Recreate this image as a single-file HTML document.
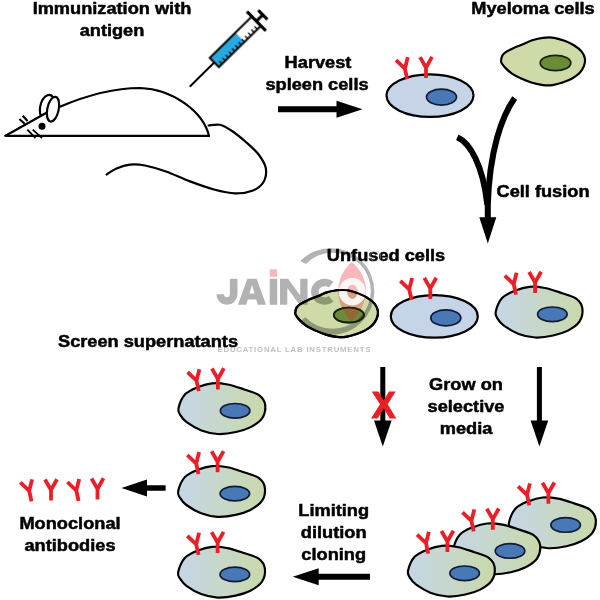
<!DOCTYPE html>
<html><head><meta charset="utf-8"><title>Monoclonal antibody production</title>
<style>
html,body{margin:0;padding:0;background:#fff;}
body{width:600px;height:600px;overflow:hidden;}
svg{display:block;font-family:"Liberation Sans",sans-serif;font-weight:bold;}
</style></head>
<body>
<svg width="600" height="600" viewBox="0 0 600 600">
<defs>
<linearGradient id="hg" x1="0" y1="0" x2="1" y2="0">
<stop offset="0" stop-color="#c5d6e8"/><stop offset="1" stop-color="#c9d9a9"/>
</linearGradient>
</defs>
<rect width="600" height="600" fill="#fff"/>
<g opacity="0.999">
<text transform="translate(112 13.5) scale(1.012 0.92)" text-anchor="middle" font-size="18" stroke="#000" stroke-width="0.55" stroke-linejoin="round">Immunization with</text>
<text transform="translate(112 35.5) scale(1.012 0.92)" text-anchor="middle" font-size="18" stroke="#000" stroke-width="0.55" stroke-linejoin="round">antigen</text>
<text transform="translate(318 68) scale(1.012 0.92)" text-anchor="middle" font-size="18" stroke="#000" stroke-width="0.55" stroke-linejoin="round">Harvest</text>
<text transform="translate(317 90) scale(1.012 0.92)" text-anchor="middle" font-size="18" stroke="#000" stroke-width="0.55" stroke-linejoin="round">spleen cells</text>
<text transform="translate(533 14) scale(1.012 0.92)" text-anchor="middle" font-size="18" stroke="#000" stroke-width="0.55" stroke-linejoin="round">Myeloma cells</text>
<text transform="translate(543 197) scale(1.012 0.92)" text-anchor="middle" font-size="18" stroke="#000" stroke-width="0.55" stroke-linejoin="round">Cell fusion</text>
<text transform="translate(386 261) scale(1.012 0.92)" text-anchor="middle" font-size="18" stroke="#000" stroke-width="0.55" stroke-linejoin="round">Unfused cells</text>
<text transform="translate(148 347) scale(1.012 0.92)" text-anchor="middle" font-size="18" stroke="#000" stroke-width="0.55" stroke-linejoin="round">Screen supernatants</text>
<text transform="translate(466 390) scale(1.012 0.92)" text-anchor="middle" font-size="18" stroke="#000" stroke-width="0.55" stroke-linejoin="round">Grow on</text>
<text transform="translate(466 412) scale(1.012 0.92)" text-anchor="middle" font-size="18" stroke="#000" stroke-width="0.55" stroke-linejoin="round">selective</text>
<text transform="translate(466 434) scale(1.012 0.92)" text-anchor="middle" font-size="18" stroke="#000" stroke-width="0.55" stroke-linejoin="round">media</text>
<text transform="translate(333.7 516) scale(1.012 0.92)" text-anchor="middle" font-size="18" stroke="#000" stroke-width="0.55" stroke-linejoin="round">Limiting</text>
<text transform="translate(333.7 538) scale(1.012 0.92)" text-anchor="middle" font-size="18" stroke="#000" stroke-width="0.55" stroke-linejoin="round">dilution</text>
<text transform="translate(333.7 560) scale(1.012 0.92)" text-anchor="middle" font-size="18" stroke="#000" stroke-width="0.55" stroke-linejoin="round">cloning</text>
<text transform="translate(70 529) scale(1.012 0.92)" text-anchor="middle" font-size="18" stroke="#000" stroke-width="0.55" stroke-linejoin="round">Monoclonal</text>
<text transform="translate(70 551) scale(1.012 0.92)" text-anchor="middle" font-size="18" stroke="#000" stroke-width="0.55" stroke-linejoin="round">antibodies</text>
</g>
<g fill="none" stroke="#000" stroke-width="2.2" stroke-linecap="round" stroke-linejoin="round">
<path d="M5.5 135.8H209"/>
<path d="M5.5 135.8L46.5 112.8"/>
<path d="M59.3 107C85 96 115 88 140 88C173 89 203.5 112 209 136"/>
<path d="M208.6 125.5C210.5 125.4 216.1 123.9 220.0 124.8C223.9 125.7 227.5 128.0 232.0 131.0C236.5 134.0 242.5 139.0 247.0 143.0C251.5 147.0 255.8 150.8 259.0 155.0C262.1 159.2 265.1 164.0 265.9 168.5C266.6 173.0 265.6 178.3 263.5 182.0C261.4 185.7 257.8 188.5 253.0 190.4C248.2 192.3 241.5 193.6 235.0 193.4C228.5 193.2 221.5 191.5 214.0 189.5C206.5 187.5 198.0 184.4 190.0 181.4C182.0 178.4 173.5 174.2 166.0 171.5C158.5 168.8 151.0 166.7 145.0 165.5C139.0 164.3 134.8 164.1 130.0 164.6C125.2 165.1 120.4 166.8 116.5 168.5C112.6 170.2 108.2 173.5 106.6 174.5"/>
<path d="M40.8 116C38.3 108 41.5 97.5 47.5 95.2C50.5 94.2 52.5 96 53.5 98.5"/>
<ellipse cx="53" cy="109.2" rx="5.7" ry="12.6" transform="rotate(12 53 109.2)" fill="#fff"/>
<path d="M19.3 119L24.7 123.7M22.7 115.7L27.5 121" stroke-width="2.1" stroke-linecap="butt"/>
<path d="M27.3 129.7L35.5 138M32.7 129.7L42 138" stroke-width="1.8" stroke-linecap="butt"/>
</g>
<circle cx="42" cy="126.3" r="3.5" fill="#000"/>
<g transform="translate(189.7 86.7) rotate(-44.5)">
<path d="M0 0H35" stroke="#000" stroke-width="1.8" fill="none"/>
<rect x="34.5" y="-6.5" width="59" height="13" fill="#fff"/>
<rect x="34.5" y="-6.5" width="36" height="13" fill="#29a8df"/>
<rect x="34.5" y="-6.5" width="59" height="13" fill="none" stroke="#000" stroke-width="2"/>
<path d="M39.0 6.5v-4M43.5 6.5v-4M48.0 6.5v-4M52.5 6.5v-4M57.0 6.5v-4M61.5 6.5v-4M66.0 6.5v-4M70.5 6.5v-4M75.0 6.5v-4M79.5 6.5v-4M84.0 6.5v-4M88.5 6.5v-4" stroke="#000" stroke-width="1.3" fill="none"/>
<path d="M93.5 -13.5V13.5" stroke="#000" stroke-width="3.2"/>
<path d="M93.5 0H102" stroke="#000" stroke-width="3"/>
<path d="M102.5 -6.5V6.5" stroke="#000" stroke-width="3.2"/>
</g>
<path d="M278 109.3H338.5" stroke="#000" stroke-width="6" fill="none"/><path d="M336.5 100.8L336.5 117.8L362.5 109.3Z" fill="#000"/>
<path d="M370 576.7H316.7" stroke="#000" stroke-width="6" fill="none"/><path d="M318.7 568.2L318.7 585.2L292.7 576.7Z" fill="#000"/>
<path d="M165.6 488H145.0" stroke="#000" stroke-width="5.5" fill="none"/><path d="M147.0 479.5L147.0 496.5L121.5 488Z" fill="#000"/>
<path d="M382.8 367V422.5" stroke="#000" stroke-width="5" fill="none"/><path d="M374.0 420.5L391.6 420.5L382.8 446.5Z" fill="#000"/>
<text x="383.8" y="417.6" text-anchor="middle" font-size="36.5" fill="#ea1f27" stroke="#ea1f27" stroke-width="0.9" opacity="0.999">X</text>
<path d="M539.4 367V422.5" stroke="#000" stroke-width="5" fill="none"/><path d="M530.6 420.5L548.1999999999999 420.5L539.4 446.5Z" fill="#000"/>
<path d="M514.7 98C502 116 489.5 150 487.8 205V220" stroke="#000" stroke-width="6" fill="none" stroke-linecap="butt"/>
<path d="M457.3 137.3C470 143 483 165 487.3 205" stroke="#000" stroke-width="6" fill="none" stroke-linecap="butt"/>
<path d="M479.3 217.2L496.3 217.2L487.8 243.5Z" fill="#000"/>
<ellipse cx="430" cy="95.6" rx="43.5" ry="21.3" fill="#c6d4e8" stroke="#000" stroke-width="2.2"/><ellipse cx="441.5" cy="97.1" rx="15" ry="8" fill="#4878b6" stroke="#0f1a33" stroke-width="1.7"/><path d="M407.2 79.1L404.9 68.6M396.0 60.1L404.9 68.6L407.8 57.1" stroke="#ea1f27" stroke-width="3.8" fill="none" stroke-linecap="butt" stroke-linejoin="miter"/><path d="M426.0 78.1L426.0 67.6M420.0 57.1L426.0 67.6L432.0 56.9" stroke="#ea1f27" stroke-width="3.8" fill="none" stroke-linecap="butt" stroke-linejoin="miter"/>
<g transform="translate(500.0 37.0) scale(1)"><path d="M1.0 23.8C1.1 22.4 1.6 19.8 2.5 18.2C3.4 16.7 4.6 15.8 6.5 14.6C8.4 13.4 11.1 12.1 13.8 10.9C16.6 9.7 19.9 8.5 23.0 7.2C26.1 6.0 28.8 4.3 32.2 3.2C35.6 2.1 39.5 1.2 43.2 0.8C46.9 0.4 50.5 0.3 54.2 0.8C57.9 1.4 61.9 2.8 65.2 4.1C68.5 5.4 71.5 6.8 74.3 8.5C77.0 10.2 79.9 12.4 81.7 14.6C83.5 16.8 84.6 19.5 85.0 21.9C85.4 24.3 84.8 26.9 83.9 29.2C83.0 31.6 81.7 33.7 79.8 35.7C77.9 37.7 75.2 39.6 72.5 41.2C69.8 42.8 66.7 44.1 63.3 45.2C59.9 46.4 55.6 47.6 52.3 48.1C48.9 48.6 46.6 48.5 43.2 48.1C39.9 47.7 35.9 46.9 32.2 45.8C28.5 44.6 24.6 43.0 21.2 41.5C17.8 40.0 14.6 38.3 12.0 36.6C9.4 34.9 7.3 32.8 5.6 31.1C3.9 29.4 2.7 27.7 1.9 26.5C1.1 25.3 0.9 25.1 1.0 23.8Z" fill="#cedba9" stroke="#000" stroke-width="2.2"/><ellipse cx="55.5" cy="26" rx="15.3" ry="7.7" fill="#6a8b37" stroke="#16210b" stroke-width="1.7"/></g>
<g transform="translate(294.2 289.5) scale(0.985)"><path d="M1.0 23.8C1.1 22.4 1.6 19.8 2.5 18.2C3.4 16.7 4.6 15.8 6.5 14.6C8.4 13.4 11.1 12.1 13.8 10.9C16.6 9.7 19.9 8.5 23.0 7.2C26.1 6.0 28.8 4.3 32.2 3.2C35.6 2.1 39.5 1.2 43.2 0.8C46.9 0.4 50.5 0.3 54.2 0.8C57.9 1.4 61.9 2.8 65.2 4.1C68.5 5.4 71.5 6.8 74.3 8.5C77.0 10.2 79.9 12.4 81.7 14.6C83.5 16.8 84.6 19.5 85.0 21.9C85.4 24.3 84.8 26.9 83.9 29.2C83.0 31.6 81.7 33.7 79.8 35.7C77.9 37.7 75.2 39.6 72.5 41.2C69.8 42.8 66.7 44.1 63.3 45.2C59.9 46.4 55.6 47.6 52.3 48.1C48.9 48.6 46.6 48.5 43.2 48.1C39.9 47.7 35.9 46.9 32.2 45.8C28.5 44.6 24.6 43.0 21.2 41.5C17.8 40.0 14.6 38.3 12.0 36.6C9.4 34.9 7.3 32.8 5.6 31.1C3.9 29.4 2.7 27.7 1.9 26.5C1.1 25.3 0.9 25.1 1.0 23.8Z" fill="#cedba9" stroke="#000" stroke-width="2.2"/><ellipse cx="55.5" cy="26" rx="15.3" ry="7.7" fill="#6a8b37" stroke="#16210b" stroke-width="1.7"/></g>
<ellipse cx="434.3" cy="316.4" rx="43.5" ry="21.3" fill="#c6d4e8" stroke="#000" stroke-width="2.2"/><ellipse cx="445.8" cy="317.9" rx="15" ry="8" fill="#4878b6" stroke="#0f1a33" stroke-width="1.7"/><path d="M411.5 299.9L409.2 289.4M400.3 280.9L409.2 289.4L412.1 277.9" stroke="#ea1f27" stroke-width="3.8" fill="none" stroke-linecap="butt" stroke-linejoin="miter"/><path d="M430.3 298.9L430.3 288.4M424.3 277.9L430.3 288.4L436.3 277.7" stroke="#ea1f27" stroke-width="3.8" fill="none" stroke-linecap="butt" stroke-linejoin="miter"/>
<g transform="translate(495.7 286.5) scale(0.985)"><path d="M0.0 25.7C0.8 22.2 3.4 15.1 6.7 11.5C10.0 7.9 15.4 5.9 20.0 4.0C24.6 2.1 29.2 0.7 34.2 0.3C39.2 -0.1 44.6 0.5 50.0 1.5C55.4 2.5 61.4 4.7 66.7 6.5C72.0 8.3 78.2 9.7 81.7 12.3C85.2 14.9 87.5 18.4 88.0 22.3C88.5 26.2 87.5 32.0 85.0 35.7C82.5 39.5 77.8 42.4 73.3 44.8C68.8 47.1 63.8 48.6 58.3 49.8C52.8 51.0 45.8 52.1 40.0 51.8C34.2 51.5 28.6 50.2 23.3 48.2C18.0 46.2 11.9 42.4 8.3 39.8C4.7 37.1 3.1 34.6 1.7 32.3C0.3 29.9 -0.8 29.2 0.0 25.7Z" fill="url(#hg)" stroke="#000" stroke-width="2.2"/><ellipse cx="57.5" cy="28.2" rx="15" ry="7.4" fill="#4878b6" stroke="#0f1a33" stroke-width="1.7"/></g><path d="M516.0 294.7L513.7 284.2M504.8 275.7L513.7 284.2L516.6 272.7" stroke="#ea1f27" stroke-width="3.8" fill="none" stroke-linecap="butt" stroke-linejoin="miter"/><path d="M535.1 293.0L535.1 282.5M529.1 272.0L535.1 282.5L541.1 271.8" stroke="#ea1f27" stroke-width="3.8" fill="none" stroke-linecap="butt" stroke-linejoin="miter"/>
<g transform="translate(178.5 383.0) scale(0.985)"><path d="M0.0 25.7C0.8 22.2 3.4 15.1 6.7 11.5C10.0 7.9 15.4 5.9 20.0 4.0C24.6 2.1 29.2 0.7 34.2 0.3C39.2 -0.1 44.6 0.5 50.0 1.5C55.4 2.5 61.4 4.7 66.7 6.5C72.0 8.3 78.2 9.7 81.7 12.3C85.2 14.9 87.5 18.4 88.0 22.3C88.5 26.2 87.5 32.0 85.0 35.7C82.5 39.5 77.8 42.4 73.3 44.8C68.8 47.1 63.8 48.6 58.3 49.8C52.8 51.0 45.8 52.1 40.0 51.8C34.2 51.5 28.6 50.2 23.3 48.2C18.0 46.2 11.9 42.4 8.3 39.8C4.7 37.1 3.1 34.6 1.7 32.3C0.3 29.9 -0.8 29.2 0.0 25.7Z" fill="url(#hg)" stroke="#000" stroke-width="2.2"/><ellipse cx="57.5" cy="28.2" rx="15" ry="7.4" fill="#4878b6" stroke="#0f1a33" stroke-width="1.7"/></g><path d="M198.8 391.2L196.5 380.7M187.6 372.2L196.5 380.7L199.4 369.2" stroke="#ea1f27" stroke-width="3.8" fill="none" stroke-linecap="butt" stroke-linejoin="miter"/><path d="M217.9 389.5L217.9 379.0M211.9 368.5L217.9 379.0L223.9 368.3" stroke="#ea1f27" stroke-width="3.8" fill="none" stroke-linecap="butt" stroke-linejoin="miter"/>
<g transform="translate(178.2 465.8) scale(0.985)"><path d="M0.0 25.7C0.8 22.2 3.4 15.1 6.7 11.5C10.0 7.9 15.4 5.9 20.0 4.0C24.6 2.1 29.2 0.7 34.2 0.3C39.2 -0.1 44.6 0.5 50.0 1.5C55.4 2.5 61.4 4.7 66.7 6.5C72.0 8.3 78.2 9.7 81.7 12.3C85.2 14.9 87.5 18.4 88.0 22.3C88.5 26.2 87.5 32.0 85.0 35.7C82.5 39.5 77.8 42.4 73.3 44.8C68.8 47.1 63.8 48.6 58.3 49.8C52.8 51.0 45.8 52.1 40.0 51.8C34.2 51.5 28.6 50.2 23.3 48.2C18.0 46.2 11.9 42.4 8.3 39.8C4.7 37.1 3.1 34.6 1.7 32.3C0.3 29.9 -0.8 29.2 0.0 25.7Z" fill="url(#hg)" stroke="#000" stroke-width="2.2"/><ellipse cx="57.5" cy="28.2" rx="15" ry="7.4" fill="#4878b6" stroke="#0f1a33" stroke-width="1.7"/></g><path d="M198.5 474.0L196.2 463.5M187.3 455.0L196.2 463.5L199.1 452.0" stroke="#ea1f27" stroke-width="3.8" fill="none" stroke-linecap="butt" stroke-linejoin="miter"/><path d="M217.6 472.3L217.6 461.8M211.6 451.3L217.6 461.8L223.6 451.1" stroke="#ea1f27" stroke-width="3.8" fill="none" stroke-linecap="butt" stroke-linejoin="miter"/>
<g transform="translate(178.2 546.6) scale(0.985)"><path d="M0.0 25.7C0.8 22.2 3.4 15.1 6.7 11.5C10.0 7.9 15.4 5.9 20.0 4.0C24.6 2.1 29.2 0.7 34.2 0.3C39.2 -0.1 44.6 0.5 50.0 1.5C55.4 2.5 61.4 4.7 66.7 6.5C72.0 8.3 78.2 9.7 81.7 12.3C85.2 14.9 87.5 18.4 88.0 22.3C88.5 26.2 87.5 32.0 85.0 35.7C82.5 39.5 77.8 42.4 73.3 44.8C68.8 47.1 63.8 48.6 58.3 49.8C52.8 51.0 45.8 52.1 40.0 51.8C34.2 51.5 28.6 50.2 23.3 48.2C18.0 46.2 11.9 42.4 8.3 39.8C4.7 37.1 3.1 34.6 1.7 32.3C0.3 29.9 -0.8 29.2 0.0 25.7Z" fill="url(#hg)" stroke="#000" stroke-width="2.2"/><ellipse cx="57.5" cy="28.2" rx="15" ry="7.4" fill="#4878b6" stroke="#0f1a33" stroke-width="1.7"/></g><path d="M198.5 554.8L196.2 544.3M187.3 535.8L196.2 544.3L199.1 532.8" stroke="#ea1f27" stroke-width="3.8" fill="none" stroke-linecap="butt" stroke-linejoin="miter"/><path d="M217.6 553.1L217.6 542.6M211.6 532.1L217.6 542.6L223.6 531.9" stroke="#ea1f27" stroke-width="3.8" fill="none" stroke-linecap="butt" stroke-linejoin="miter"/>
<g transform="translate(509.0 497.2) scale(0.985)"><path d="M0.0 25.7C0.8 22.2 3.4 15.1 6.7 11.5C10.0 7.9 15.4 5.9 20.0 4.0C24.6 2.1 29.2 0.7 34.2 0.3C39.2 -0.1 44.6 0.5 50.0 1.5C55.4 2.5 61.4 4.7 66.7 6.5C72.0 8.3 78.2 9.7 81.7 12.3C85.2 14.9 87.5 18.4 88.0 22.3C88.5 26.2 87.5 32.0 85.0 35.7C82.5 39.5 77.8 42.4 73.3 44.8C68.8 47.1 63.8 48.6 58.3 49.8C52.8 51.0 45.8 52.1 40.0 51.8C34.2 51.5 28.6 50.2 23.3 48.2C18.0 46.2 11.9 42.4 8.3 39.8C4.7 37.1 3.1 34.6 1.7 32.3C0.3 29.9 -0.8 29.2 0.0 25.7Z" fill="url(#hg)" stroke="#000" stroke-width="2.2"/><ellipse cx="57.5" cy="28.2" rx="15" ry="7.4" fill="#4878b6" stroke="#0f1a33" stroke-width="1.7"/></g><path d="M529.3 505.4L527.0 494.9M518.1 486.4L527.0 494.9L529.9 483.4" stroke="#ea1f27" stroke-width="3.8" fill="none" stroke-linecap="butt" stroke-linejoin="miter"/><path d="M548.4 503.7L548.4 493.2M542.4 482.7L548.4 493.2L554.4 482.5" stroke="#ea1f27" stroke-width="3.8" fill="none" stroke-linecap="butt" stroke-linejoin="miter"/>
<g transform="translate(453.4 523.2) scale(0.985)"><path d="M0.0 25.7C0.8 22.2 3.4 15.1 6.7 11.5C10.0 7.9 15.4 5.9 20.0 4.0C24.6 2.1 29.2 0.7 34.2 0.3C39.2 -0.1 44.6 0.5 50.0 1.5C55.4 2.5 61.4 4.7 66.7 6.5C72.0 8.3 78.2 9.7 81.7 12.3C85.2 14.9 87.5 18.4 88.0 22.3C88.5 26.2 87.5 32.0 85.0 35.7C82.5 39.5 77.8 42.4 73.3 44.8C68.8 47.1 63.8 48.6 58.3 49.8C52.8 51.0 45.8 52.1 40.0 51.8C34.2 51.5 28.6 50.2 23.3 48.2C18.0 46.2 11.9 42.4 8.3 39.8C4.7 37.1 3.1 34.6 1.7 32.3C0.3 29.9 -0.8 29.2 0.0 25.7Z" fill="url(#hg)" stroke="#000" stroke-width="2.2"/><ellipse cx="57.5" cy="28.2" rx="15" ry="7.4" fill="#4878b6" stroke="#0f1a33" stroke-width="1.7"/></g><path d="M473.7 531.4L471.4 520.9M462.5 512.4L471.4 520.9L474.3 509.4" stroke="#ea1f27" stroke-width="3.8" fill="none" stroke-linecap="butt" stroke-linejoin="miter"/><path d="M492.8 529.7L492.8 519.2M486.8 508.7L492.8 519.2L498.8 508.5" stroke="#ea1f27" stroke-width="3.8" fill="none" stroke-linecap="butt" stroke-linejoin="miter"/>
<g transform="translate(408.0 545.5) scale(0.985)"><path d="M0.0 25.7C0.8 22.2 3.4 15.1 6.7 11.5C10.0 7.9 15.4 5.9 20.0 4.0C24.6 2.1 29.2 0.7 34.2 0.3C39.2 -0.1 44.6 0.5 50.0 1.5C55.4 2.5 61.4 4.7 66.7 6.5C72.0 8.3 78.2 9.7 81.7 12.3C85.2 14.9 87.5 18.4 88.0 22.3C88.5 26.2 87.5 32.0 85.0 35.7C82.5 39.5 77.8 42.4 73.3 44.8C68.8 47.1 63.8 48.6 58.3 49.8C52.8 51.0 45.8 52.1 40.0 51.8C34.2 51.5 28.6 50.2 23.3 48.2C18.0 46.2 11.9 42.4 8.3 39.8C4.7 37.1 3.1 34.6 1.7 32.3C0.3 29.9 -0.8 29.2 0.0 25.7Z" fill="url(#hg)" stroke="#000" stroke-width="2.2"/><ellipse cx="57.5" cy="28.2" rx="15" ry="7.4" fill="#4878b6" stroke="#0f1a33" stroke-width="1.7"/></g><path d="M428.3 553.7L426.0 543.2M417.1 534.7L426.0 543.2L428.9 531.7" stroke="#ea1f27" stroke-width="3.8" fill="none" stroke-linecap="butt" stroke-linejoin="miter"/><path d="M447.4 552.0L447.4 541.5M441.4 531.0L447.4 541.5L453.4 530.8" stroke="#ea1f27" stroke-width="3.8" fill="none" stroke-linecap="butt" stroke-linejoin="miter"/>
<path d="M31.5 501.4L29.2 490.9M20.3 482.4L29.2 490.9L32.1 479.4" stroke="#ea1f27" stroke-width="3.8" fill="none" stroke-linecap="butt" stroke-linejoin="miter"/>
<path d="M51.0 500.5L51.0 490.0M45.0 479.5L51.0 490.0L57.0 479.3" stroke="#ea1f27" stroke-width="3.8" fill="none" stroke-linecap="butt" stroke-linejoin="miter"/>
<path d="M78.6 501.0L76.3 490.5M67.4 482.0L76.3 490.5L79.2 479.0" stroke="#ea1f27" stroke-width="3.8" fill="none" stroke-linecap="butt" stroke-linejoin="miter"/>
<path d="M97.5 499.5L97.5 489.0M91.5 478.5L97.5 489.0L103.5 478.3" stroke="#ea1f27" stroke-width="3.8" fill="none" stroke-linecap="butt" stroke-linejoin="miter"/>
<g opacity="0.3">
<path d="M300.4 260.9A43.3 43.3 0 1 1 299.9 321.6L305.4 317.2A38.05 38.05 0 1 0 305.8 263.9Z" fill="#000"/>
<path d="M233.7 278.7V294.3a6.75 6.75 0 0 1 -13.5 0" fill="none" stroke="#000" stroke-width="7.6"/>
<path fill-rule="evenodd" d="M238 304.8L247.3 278.7H256.7L266 304.8H257.8L256.2 299.4H247.8L246.2 304.8ZM252 285L249.5 293.6H254.5Z" fill="#000"/>
<rect x="269.7" y="278.7" width="7.5" height="26.1" fill="#000"/>
<path d="M280 304.8V278.7H288L300.2 295.5V278.7H307.5V304.8H299.5L287.3 288V304.8Z" fill="#000"/>
<path d="M331.2 284.6A10 9.3 0 1 0 331.2 298.9" fill="none" stroke="#000" stroke-width="7.5"/>
<path fill-rule="evenodd" d="M338.7 291.7a13.6 13.9 0 1 0 27.2 0a13.6 13.9 0 1 0 -27.2 0ZM347.2 291.7a5.2 7 0 1 0 10.4 0a5.2 7 0 1 0 -10.4 0Z" fill="#000"/>
</g>
<rect x="269.7" y="269.3" width="7.5" height="7.5" fill="#e8212b" fill-opacity="0.32"/>
<path d="M351.7 262C370.5 278 371 302 351.2 321.5C333.5 302 334 278 351.7 262Z" fill="#e8212b" fill-opacity="0.32"/>
<clipPath id="flc"><path d="M351.7 262C370.5 278 371 302 351.2 321.5C333.5 302 334 278 351.7 262Z"/></clipPath>
<path fill-rule="evenodd" d="M338.7 291.7a13.6 13.9 0 1 0 27.2 0a13.6 13.9 0 1 0 -27.2 0ZM347.2 291.7a5.2 7 0 1 0 10.4 0a5.2 7 0 1 0 -10.4 0Z" fill="#fff" fill-opacity="0.92" clip-path="url(#flc)"/>
<circle cx="375.4" cy="256.3" r="5.4" fill="none" stroke="#bbb" stroke-width="0.7" opacity="0.8"/>
<g opacity="0.26"><text x="217.5" y="352" font-size="7.8" fill="#000" textLength="153" lengthAdjust="spacing" text-anchor="start">EDUCATIONAL LAB INSTRUMENTS</text></g>
<g transform="translate(294.2 289.5) scale(0.985)"><path d="M1.0 23.8C1.1 22.4 1.6 19.8 2.5 18.2C3.4 16.7 4.6 15.8 6.5 14.6C8.4 13.4 11.1 12.1 13.8 10.9C16.6 9.7 19.9 8.5 23.0 7.2C26.1 6.0 28.8 4.3 32.2 3.2C35.6 2.1 39.5 1.2 43.2 0.8C46.9 0.4 50.5 0.3 54.2 0.8C57.9 1.4 61.9 2.8 65.2 4.1C68.5 5.4 71.5 6.8 74.3 8.5C77.0 10.2 79.9 12.4 81.7 14.6C83.5 16.8 84.6 19.5 85.0 21.9C85.4 24.3 84.8 26.9 83.9 29.2C83.0 31.6 81.7 33.7 79.8 35.7C77.9 37.7 75.2 39.6 72.5 41.2C69.8 42.8 66.7 44.1 63.3 45.2C59.9 46.4 55.6 47.6 52.3 48.1C48.9 48.6 46.6 48.5 43.2 48.1C39.9 47.7 35.9 46.9 32.2 45.8C28.5 44.6 24.6 43.0 21.2 41.5C17.8 40.0 14.6 38.3 12.0 36.6C9.4 34.9 7.3 32.8 5.6 31.1C3.9 29.4 2.7 27.7 1.9 26.5C1.1 25.3 0.9 25.1 1.0 23.8Z" fill="none" stroke="#000" stroke-width="2.2"/><ellipse cx="55.5" cy="26" rx="15.3" ry="7.7" fill="none" stroke="#16210b" stroke-width="1.7"/></g>
</svg>
</body></html>
